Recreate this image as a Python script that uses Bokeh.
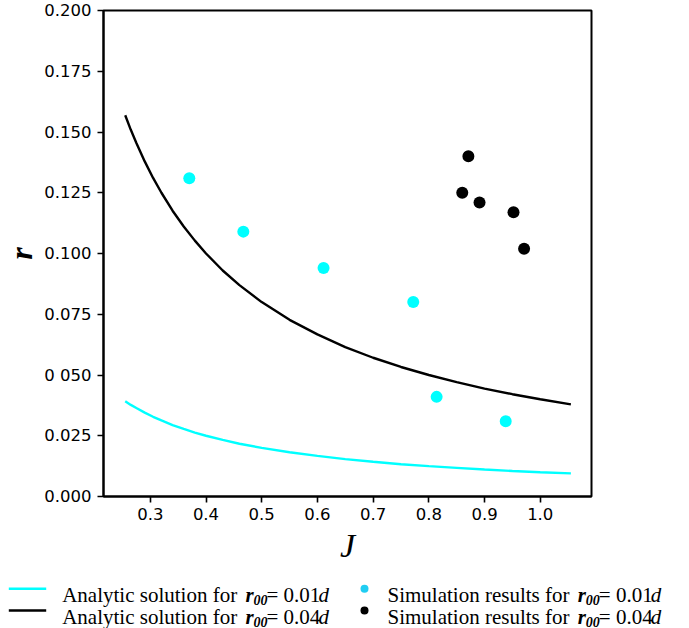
from bokeh.plotting import figure
from bokeh.models import Range1d, FixedTicker, ColumnDataSource
from bokeh.layouts import column
from bokeh.core.properties import value
from bokeh.embed import file_html
from bokeh.resources import INLINE

# ---------------- data ----------------
J_curve = [0.255, 0.265, 0.275, 0.29, 0.305, 0.32, 0.34, 0.36, 0.38, 0.40,
           0.43, 0.46, 0.50, 0.55, 0.60, 0.65, 0.70, 0.75, 0.80, 0.85,
           0.90, 0.95, 1.00, 1.055]
r_analytic_001 = [0.0392, 0.0377, 0.0364, 0.0345, 0.0328, 0.0313, 0.0294, 0.0278,
                  0.0263, 0.0250, 0.0233, 0.0217, 0.0200, 0.0182, 0.0167, 0.0154,
                  0.0143, 0.0133, 0.0125, 0.0118, 0.0111, 0.0105, 0.0100, 0.0095]
r_analytic_004 = [0.1569, 0.1509, 0.1455, 0.1379, 0.1311, 0.1250, 0.1176, 0.1111,
                  0.1053, 0.1000, 0.0930, 0.0870, 0.0800, 0.0727, 0.0667, 0.0615,
                  0.0571, 0.0533, 0.0500, 0.0471, 0.0444, 0.0421, 0.0400, 0.0379]

J_sim_001 = [0.370, 0.467, 0.611, 0.772, 0.814, 0.938]
r_sim_001 = [0.131, 0.109, 0.094, 0.080, 0.041, 0.031]

J_sim_004 = [0.860, 0.871, 0.891, 0.952, 0.971]
r_sim_004 = [0.125, 0.140, 0.121, 0.117, 0.102]

x_ticks = [0.3, 0.4, 0.5, 0.6, 0.7, 0.8, 0.9, 1.0]
x_tick_labels = ["0.3", "0.4", "0.5", "0.6", "0.7", "0.8", "0.9", "1.0"]
y_ticks = [0.0, 0.025, 0.05, 0.075, 0.1, 0.125, 0.15, 0.175, 0.2]
y_tick_labels = ["0.000", "0.025", "0 050", "0.075", "0.100", "0.125",
                 "0.150", "0.175", "0.200"]

legend_prefix = ["Analytic solution for ", "Analytic solution for ",
                 "Simulation results for ", "Simulation results for "]
legend_value = ["= 0.01", "= 0.04", "= 0.01", "= 0.04"]

CYAN = "#00FFFF"
BLACK = "#000000"
LEG_DOT_CYAN = "#20CDF2"

# ---------------- main figure ----------------
p = figure(width=689, height=570, frame_width=488, frame_height=486,
           min_border_left=102, min_border_right=99, min_border_top=10,
           min_border_bottom=74, output_backend="svg", toolbar_location=None,
           x_range=Range1d(0.216, 1.092), y_range=Range1d(0.0, 0.2))
p.frame_align = False

p.line(J_curve, r_analytic_001, line_color=CYAN, line_width=2.4)
p.line(J_curve, r_analytic_004, line_color=BLACK, line_width=2.4)
p.scatter(J_sim_001, r_sim_001, size=12, fill_color=CYAN, line_color=None)
p.scatter(J_sim_004, r_sim_004, size=12, fill_color=BLACK, line_color=None)

p.grid.visible = False
p.outline_line_color = "black"
p.outline_line_width = 2
p.background_fill_color = "white"
p.border_fill_color = "white"

p.xaxis.ticker = FixedTicker(ticks=x_ticks)
p.xaxis.major_label_overrides = {t: l for t, l in zip(x_ticks, x_tick_labels)}
p.yaxis.ticker = FixedTicker(ticks=y_ticks)
p.yaxis.major_label_overrides = {t: l for t, l in zip(y_ticks, y_tick_labels)}

for ax in (p.xaxis, p.yaxis):
    ax.axis_line_width = 2
    ax.major_tick_line_width = 1.6
    ax.major_tick_out = 6
    ax.major_tick_in = 0
    ax.minor_tick_line_color = None
    ax.major_label_text_font = "DejaVu Sans"
    ax.major_label_text_font_size = "16.5px"
    ax.major_label_text_color = "black"
    ax.axis_label_text_font = "Liberation Serif"
    ax.axis_label_text_color = "black"

p.xaxis.major_label_standoff = 5
p.yaxis.major_label_standoff = 6
p.xaxis.axis_label = "J"
p.xaxis.axis_label_text_font_style = "italic"
p.xaxis.axis_label_text_font_size = "34px"
p.xaxis.axis_label_standoff = 4
p.yaxis.axis_label = "r"
p.yaxis.axis_label_text_font_style = "bold italic"
p.yaxis.axis_label_text_font_size = "32px"
p.yaxis.axis_label_standoff = 2

# ---------------- legend strip (drawn as text) ----------------
lg = figure(width=689, height=58, output_backend="svg", toolbar_location=None,
            x_range=Range1d(0, 689), y_range=Range1d(58, 0),
            min_border=0, min_border_left=0, min_border_right=0,
            min_border_top=0, min_border_bottom=0)
lg.frame_align = False
lg.axis.visible = False
lg.grid.visible = False
lg.outline_line_color = None
lg.background_fill_color = "white"
lg.border_fill_color = "white"

FS = "21px"
SUB_FS = "14px"
FONT = value("Liberation Serif")

col_x = [61.7, 61.7, 387.0, 387.0]
row_base = [24.0, 46.0, 24.0, 46.0]
row_mark = [18.3, 40.0, 18.3, 40.0]
extra = [0.0, 0.0, 7.0, 7.0]

# markers
lg.line([8.3, 45.7], [row_mark[0]] * 2, line_color=CYAN, line_width=2.4)
lg.line([8.3, 45.7], [row_mark[1]] * 2, line_color=BLACK, line_width=2.4)
lg.scatter([364.0], [row_mark[2]], size=8, fill_color=LEG_DOT_CYAN, line_color=None)
lg.scatter([364.0], [row_mark[3]], size=8, fill_color=BLACK, line_color=None)

src = ColumnDataSource(dict(x=col_x, y=row_base, t=legend_prefix))
lg.text(x="x", y="y", text="t", source=src, text_font=FONT, text_font_size=FS,
        text_baseline="alphabetic", text_align="left", text_color="black")

rx = [c + 183.3 + e for c, e in zip(col_x, extra)]
lg.text(x=rx, y=row_base, text=["r"] * 4, text_font=FONT, text_font_size=FS,
        text_font_style="bold italic", text_baseline="alphabetic", text_color="black")
sx = [c + 191.3 + e for c, e in zip(col_x, extra)]
lg.text(x=sx, y=[b + 5 for b in row_base], text=["00"] * 4, text_font=FONT,
        text_font_size=SUB_FS, text_font_style="bold italic",
        text_baseline="alphabetic", text_color="black")
ex = [c + 204.3 + e for c, e in zip(col_x, extra)]
lg.text(x=ex, y=row_base, text=legend_value, text_font=FONT, text_font_size=FS,
        text_baseline="alphabetic", text_color="black")
dx = [c + 256.3 + e for c, e in zip(col_x, extra)]
lg.text(x=dx, y=row_base, text=["d"] * 4, text_font=FONT, text_font_size=FS,
        text_font_style="italic", text_baseline="alphabetic", text_color="black")

layout = column(p, lg, spacing=0)

open("out.html", "w").write(file_html(layout, INLINE))
